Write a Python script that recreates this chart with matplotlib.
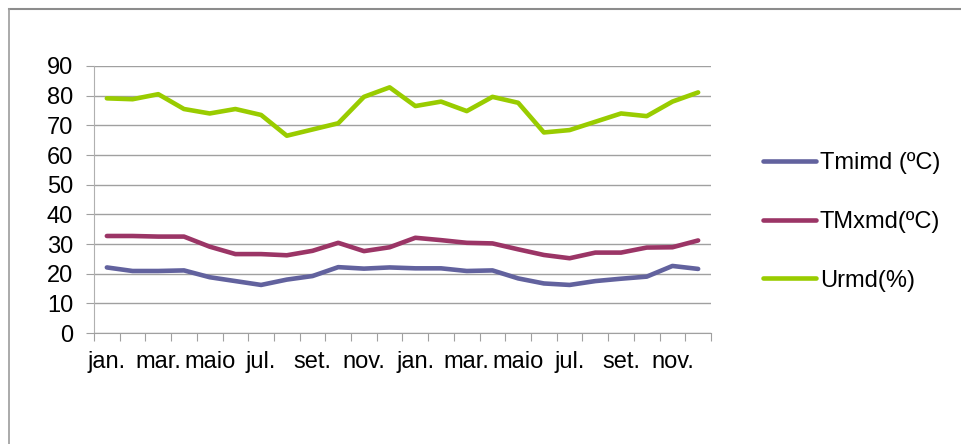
import matplotlib
matplotlib.use("Agg")
import matplotlib.pyplot as plt
from matplotlib.lines import Line2D
import numpy as np

months = ["jan.", "fev.", "mar.", "abr.", "maio", "jun.", "jul.", "ago.", "set.", "out.", "nov.", "dez."] * 2
tmimd = [22.1, 20.9, 20.9, 21.1, 18.8, 17.5, 16.2, 18.0, 19.2, 22.2, 21.7, 22.1,
         21.8, 21.8, 20.9, 21.1, 18.4, 16.7, 16.2, 17.5, 18.3, 19.0, 22.6, 21.6]
tmxmd = [32.7, 32.7, 32.5, 32.5, 29.1, 26.6, 26.6, 26.2, 27.7, 30.4, 27.6, 28.9,
         32.1, 31.3, 30.4, 30.2, 28.2, 26.3, 25.2, 27.1, 27.1, 28.8, 28.9, 31.2]
urmd = [79.1, 78.8, 80.5, 75.5, 74.0, 75.5, 73.5, 66.5, 68.6, 70.7, 79.6, 82.8,
        76.5, 78.0, 74.8, 79.6, 77.6, 67.6, 68.4, 71.2, 74.0, 73.1, 78.0, 81.1]
series_labels = ["Tmimd (ºC)", "TMxmd(ºC)", "Urmd(%)"]
colors = ["#62629e", "#9b3566", "#99cc00"]
yticks = list(range(0, 100, 10))

plt.rcParams['font.family'] = ['Liberation Sans', 'DejaVu Sans']
fs = 17

fig = plt.figure(figsize=(9.61, 4.44), dpi=100)
ax = fig.add_axes([94/961, 1-333/444, (711-94)/961, (333-66)/444])

x = np.arange(len(months))
for vals, lab, c in zip([tmimd, tmxmd, urmd], series_labels, colors):
    ax.plot(x, vals, color=c, lw=3.3, label=lab, solid_capstyle='round', solid_joinstyle='round')

ax.set_xlim(-0.5, len(months) - 0.5)
ax.set_ylim(0, 90)
ax.set_yticks(yticks)
ax.set_yticklabels([str(v) for v in yticks], fontsize=fs)
ax.yaxis.grid(True, color="#a0a0a0", lw=1.0)
ax.set_axisbelow(True)

# category boundary ticks (no labels) and label positions every 2 categories
ax.set_xticks(np.arange(-0.5, len(months), 1.0))
ax.set_xticklabels([])
ax.set_xticks(x[::2], minor=True)
ax.set_xticklabels(months[::2], minor=True, fontsize=fs)
ax.tick_params(axis='x', which='major', length=6, color="#a0a0a0", direction='out')
ax.tick_params(axis='x', which='minor', length=0, pad=13)
ax.tick_params(axis='y', length=6, color="#a0a0a0", pad=9)

for s in ['top', 'right']:
    ax.spines[s].set_visible(False)
ax.spines['left'].set_color("#b0b0b0")
ax.spines['bottom'].set_color("#a0a0a0")

leg = ax.legend(loc='center left', bbox_to_anchor=(763/961, 0.5), bbox_transform=fig.transFigure,
                frameon=False, fontsize=fs, handlelength=2.25, handletextpad=0.15,
                labelspacing=1.55, borderpad=0, borderaxespad=0)

# outer chart border (top and left visible)
fig.add_artist(Line2D([9/961, 1.0], [1-9/444, 1-9/444], transform=fig.transFigure, color="#8c8c8c", lw=1.5))
fig.add_artist(Line2D([9/961, 9/961], [0, 1-9/444], transform=fig.transFigure, color="#9c9c9c", lw=1.2))

fig.savefig("out.png", dpi=100)
